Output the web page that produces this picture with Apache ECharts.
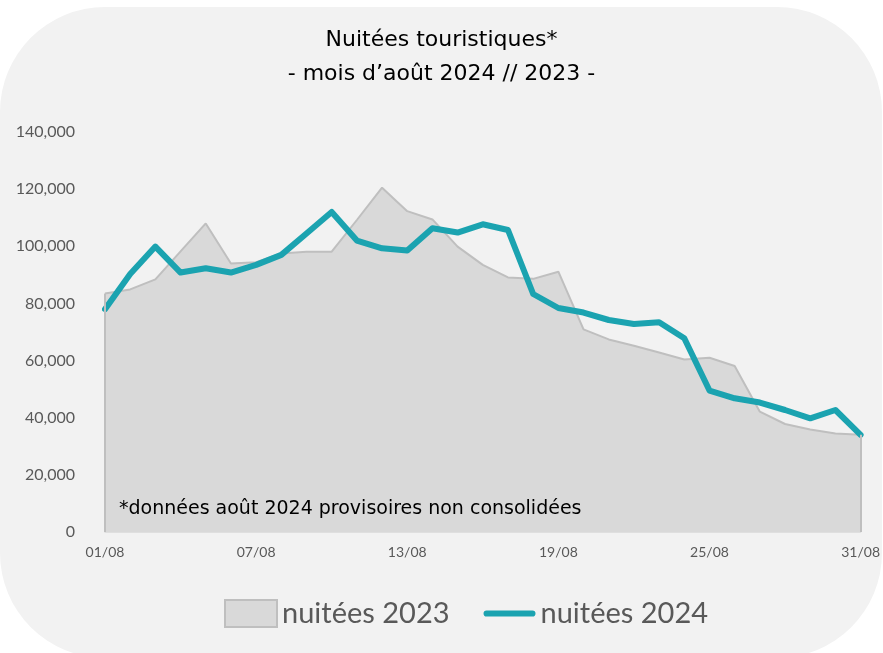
<!DOCTYPE html>
<html>
<head>
<meta charset="utf-8">
<script src="https://cdn.jsdelivr.net/npm/echarts@6/dist/echarts.min.js"></script>
<style>
  html, body { margin: 0; padding: 0; background: #ffffff; }
  .card {
    position: absolute;
    left: 0;
    top: 7px;
    width: 882px;
    height: 651px;
    background: #f2f2f2;
    border-radius: 105px;
  }
  #main { position: absolute; left: 0; top: 0; width: 883px; height: 653px; }
</style>
</head>
<body>
<div class="card"></div>
<div id="main"></div>
<script>
// jours du mois d'août
const days = ['01/08', '02/08', '03/08', '04/08', '05/08', '06/08', '07/08', '08/08', '09/08', '10/08',
  '11/08', '12/08', '13/08', '14/08', '15/08', '16/08', '17/08', '18/08', '19/08', '20/08',
  '21/08', '22/08', '23/08', '24/08', '25/08', '26/08', '27/08', '28/08', '29/08', '30/08', '31/08'];

const nuitees2023 = [83500, 84900, 88400, 98200, 108000, 94000, 94400, 97500, 98100, 98100,
  109200, 120500, 112300, 109400, 99900, 93500, 89100, 88600, 91100, 70900,
  67400, 65200, 62800, 60400, 61000, 58100, 42100, 37800, 35900, 34500, 34000];

const nuitees2024 = [78000, 90300, 99900, 90800, 92300, 90800, 93500, 97000, 104500, 112000,
  102000, 99300, 98500, 106300, 104800, 107700, 105700, 83300, 78400, 76800,
  74200, 72800, 73400, 67800, 49500, 46800, 45300, 42700, 39800, 42700, 34000];

const yTicks = [0, 20000, 40000, 60000, 80000, 100000, 120000, 140000];

const last = days.length - 1;

const myChart = echarts.init(document.getElementById('main'));

const titleFont = {
  fontFamily: 'DejaVu Sans',
  fontWeight: 'normal',
  fontSize: 22,
  color: '#000000'
};

const option = {
  backgroundColor: 'transparent',
  animation: false,
  title: [
    { text: 'Nuitées touristiques*', left: 'center', top: 24, textStyle: titleFont },
    { text: '- mois d\u2019août 2024 // 2023 -', left: 'center', top: 58, textStyle: titleFont },
    {
      text: '*données août 2024 provisoires non consolidées',
      left: 114,
      top: 495,
      textStyle: {
        fontFamily: 'DejaVu Sans',
        fontWeight: 'normal',
        fontSize: 19,
        color: '#000000'
      }
    }
  ],
  legend: {
    bottom: 20,
    left: 219,
    itemWidth: 52,
    itemHeight: 27,
    itemGap: 34,
    textStyle: {
      fontFamily: 'Lato',
      fontSize: 29,
      color: '#595959'
    },
    data: [
      {
        name: 'nuitées 2023',
        icon: 'rect',
        itemStyle: { color: '#d9d9d9', borderColor: '#bfbfbf', borderWidth: 2 }
      },
      {
        name: 'nuitées 2024',
        icon: 'path://M6,0 L94,0 A6,6 0 0 1 94,12 L6,12 A6,6 0 0 1 6,0 Z',
        itemStyle: { color: '#1ba3b0', borderWidth: 0 }
      }
    ]
  },
  grid: {
    left: 105,
    right: 16,
    top: 132,
    bottom: 121,
    containLabel: false
  },
  xAxis: {
    type: 'category',
    data: days,
    boundaryGap: false,
    axisLine: { lineStyle: { color: '#d9d9d9', width: 1.5 } },
    axisTick: { show: false },
    axisLabel: {
      interval: 5,
      margin: 13,
      fontFamily: 'Lato',
      fontSize: 14,
      color: '#595959'
    },
    splitLine: { show: false }
  },
  yAxis: {
    type: 'value',
    min: yTicks[0],
    max: yTicks[yTicks.length - 1],
    interval: 20000,
    axisLine: { show: false },
    axisTick: { show: false },
    splitLine: { show: false },
    axisLabel: {
      margin: 30,
      fontFamily: 'Lato',
      fontSize: 16,
      color: '#595959',
      formatter: v => v.toLocaleString('en-US')
    }
  },
  series: [
    {
      name: 'nuitées 2023',
      type: 'line',
      data: nuitees2023,
      symbol: 'none',
      itemStyle: { color: '#d9d9d9' },
      lineStyle: { color: '#bfbfbf', width: 2 },
      areaStyle: { color: '#d9d9d9', opacity: 1 },
      z: 1,
      markLine: {
        silent: true,
        symbol: 'none',
        label: { show: false },
        lineStyle: { color: '#bfbfbf', width: 2, type: 'solid' },
        data: [
          [{ coord: [days[0], 0] }, { coord: [days[0], nuitees2023[0]] }],
          [{ coord: [days[last], 0] }, { coord: [days[last], nuitees2023[last]] }]
        ]
      }
    },
    {
      name: 'nuitées 2024',
      type: 'line',
      data: nuitees2024,
      symbol: 'none',
      itemStyle: { color: '#1ba3b0' },
      lineStyle: { color: '#1ba3b0', width: 6, join: 'round', cap: 'round' },
      z: 3
    }
  ]
};

myChart.setOption(option);
</script>
</body>
</html>
